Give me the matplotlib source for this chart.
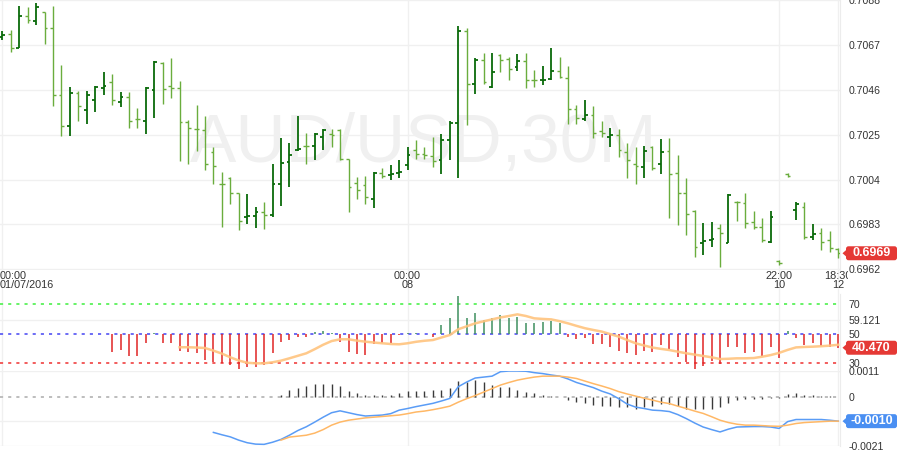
import numpy as np
import matplotlib
matplotlib.use('Agg')
import matplotlib.pyplot as plt
from matplotlib.patches import FancyBboxPatch, Polygon
from matplotlib.transforms import IdentityTransform

plt.rcParams['font.family'] = ['Liberation Sans', 'DejaVu Sans']

nan = np.nan

opens = [0.70709, 0.70721, 0.70655, 0.70807, 0.70781, 0.70823, 0.70749, 0.70437, 0.70292, 0.70446,
         0.70364, 0.70413, 0.70469, 0.70496, 0.70403, 0.70426, 0.70325, 0.70314, 0.70460, 0.70586,
         0.70476, 0.70469, 0.70309, 0.70278, 0.70273, 0.70169, 0.70021, 0.70045, 0.69975, 0.69866,
         0.69869, 0.69886, 0.69874, 0.70018, 0.70123, 0.70177, 0.70197, 0.70197, 0.70239, 0.70255,
         0.70270, 0.70138, 0.70025, 0.70014, 0.69951, 0.70071, 0.70060, 0.70071, 0.70107, 0.70177,
         0.70161, 0.70149, 0.70133, 0.70224, 0.70305, 0.70734, 0.70488, 0.70597, 0.70473, 0.70625,
         0.70605, 0.70566, 0.70594, 0.70508, 0.70504, 0.70511, 0.70550, 0.70516, 0.70368, 0.70322,
         0.70343, 0.70267, 0.70239, 0.70247, 0.70169, 0.70115, 0.70099, 0.70193, 0.70115, 0.70174,
         0.70071, 0.69978, 0.69894, 0.69741, 0.69757, 0.69811, 0.69741, 0.69936, 0.69931, 0.69842,
         0.69819, 0.69749, 0.69660, 0.70065, 0.69897, 0.69912, 0.69772, 0.69788, 0.69757, 0.69713]
highs = [0.70737, 0.70740, 0.70851, 0.70846, 0.70865, 0.70823, 0.70851, 0.70574, 0.70473, 0.70454,
         0.70454, 0.70476, 0.70543, 0.70535, 0.70449, 0.70449, 0.70375, 0.70473, 0.70594, 0.70589,
         0.70609, 0.70499, 0.70320, 0.70390, 0.70336, 0.70193, 0.70076, 0.70053, 0.69975, 0.69970,
         0.69912, 0.69936, 0.70115, 0.70235, 0.70211, 0.70337, 0.70258, 0.70258, 0.70278, 0.70278,
         0.70278, 0.70138, 0.70053, 0.70057, 0.70076, 0.70095, 0.70107, 0.70133, 0.70193, 0.70224,
         0.70193, 0.70239, 0.70255, 0.70314, 0.70760, 0.70749, 0.70609, 0.70631, 0.70631, 0.70628,
         0.70613, 0.70628, 0.70633, 0.70553, 0.70571, 0.70655, 0.70613, 0.70571, 0.70390, 0.70413,
         0.70382, 0.70314, 0.70281, 0.70275, 0.70211, 0.70193, 0.70196, 0.70197, 0.70231, 0.70236,
         0.70154, 0.70048, 0.69897, 0.69838, 0.69842, 0.69832, 0.69972, 0.69939, 0.69975, 0.69894,
         0.69858, 0.69894, 0.69664, 0.70071, 0.69936, 0.69936, 0.69832, 0.69814, 0.69799, 0.69721]
lows = [0.70693, 0.70636, 0.70655, 0.70771, 0.70765, 0.70672, 0.70382, 0.70242, 0.70242, 0.70312,
        0.70301, 0.70356, 0.70434, 0.70390, 0.70379, 0.70283, 0.70283, 0.70255, 0.70329, 0.70392,
        0.70423, 0.70126, 0.70115, 0.70174, 0.70084, 0.70018, 0.69816, 0.69925, 0.69804, 0.69832,
        0.69811, 0.69807, 0.69866, 0.69916, 0.70003, 0.70174, 0.70115, 0.70130, 0.70177, 0.70193,
        0.70133, 0.69889, 0.69947, 0.69925, 0.69905, 0.70045, 0.70037, 0.70045, 0.70084, 0.70138,
        0.70138, 0.70099, 0.70065, 0.70130, 0.70049, 0.70294, 0.70441, 0.70488, 0.70469, 0.70543,
        0.70504, 0.70550, 0.70469, 0.70473, 0.70480, 0.70508, 0.70515, 0.70301, 0.70301, 0.70314,
        0.70236, 0.70239, 0.70193, 0.70146, 0.70045, 0.70021, 0.70045, 0.70084, 0.70065, 0.69858,
        0.69827, 0.69780, 0.69676, 0.69687, 0.69726, 0.69629, 0.69741, 0.69846, 0.69811, 0.69807,
        0.69749, 0.69744, 0.69640, 0.70053, 0.69850, 0.69760, 0.69757, 0.69710, 0.69702, 0.69671]
closes = [0.70717, 0.70655, 0.70807, 0.70788, 0.70846, 0.70749, 0.70437, 0.70292, 0.70446, 0.70382,
          0.70434, 0.70473, 0.70476, 0.70410, 0.70426, 0.70314, 0.70322, 0.70468, 0.70589, 0.70465,
          0.70469, 0.70309, 0.70283, 0.70277, 0.70115, 0.70104, 0.70018, 0.69975, 0.69847, 0.69869,
          0.69886, 0.69874, 0.70018, 0.70119, 0.70154, 0.70185, 0.70196, 0.70255, 0.70270, 0.70247,
          0.70138, 0.70003, 0.69990, 0.69959, 0.70071, 0.70056, 0.70065, 0.70076, 0.70154, 0.70158,
          0.70154, 0.70126, 0.70224, 0.70305, 0.70734, 0.70488, 0.70597, 0.70496, 0.70543, 0.70597,
          0.70558, 0.70594, 0.70508, 0.70504, 0.70508, 0.70550, 0.70519, 0.70368, 0.70329, 0.70343,
          0.70258, 0.70258, 0.70250, 0.70177, 0.70133, 0.70102, 0.70174, 0.70096, 0.70169, 0.70068,
          0.69978, 0.69878, 0.69726, 0.69754, 0.69760, 0.69788, 0.69967, 0.69933, 0.69835, 0.69819,
          0.69757, 0.69866, 0.69648, 0.70056, 0.69925, 0.69772, 0.69783, 0.69749, 0.69718, 0.69695]

rsi = [nan] * 13 + [37.8, 38.9, 34.9, 34.9, 43.5, 50.2, 43.9, 43.9, 38.3, 37.8,
                    36.7, 32.2, 30.5, 29.9, 28.8, 25.8, 27.6, 27.6, 28.8, 37.1,
                    44.1, 45.7, 47.5, 47.5, 51.4, 52.1, 50.7, 44.6, 37.8, 36.2,
                    35.6, 42.8, 43.5, 43.9, 49.3, 50.8, 50.3, 49.5, 48.0, 55.9,
                    60.4, 75.6, 60.8, 64.2, 59.3, 60.4, 62.7, 60.4, 61.5, 57.5,
                    57.0, 57.7, 58.8, 57.0, 48.0, 46.2, 46.9, 43.0, 43.0, 41.2,
                    38.3, 36.7, 35.4, 38.0, 37.6, 42.6, 39.5, 34.0, 30.6, 25.8,
                    27.8, 31.2, 29.6, 41.0, 41.0, 37.1, 37.6, 34.6, 41.0, 33.3,
                    52.0, 47.4, 42.3, 43.5, 41.6, 41.2, 40.47]
rsi_ma = [nan] * 21 + [40.8, 40.8, 40.6, 40.3, 38.5, 36.5, 34.0, 31.8, 30.3, 29.9,
                       29.9, 30.6, 31.7, 33.3, 35.0, 36.7, 39.5, 42.5, 45.0, 46.2,
                       46.2, 45.3, 44.6, 44.0, 43.5, 43.0, 42.8, 43.5, 44.5, 45.2,
                       45.7, 47.4, 49.1, 53.0, 55.0, 57.0, 58.4, 59.7, 61.0, 62.0,
                       63.1, 62.0, 60.4, 60.0, 59.7, 58.5, 57.0, 55.3, 53.7, 52.5,
                       51.4, 49.7, 48.0, 45.7, 43.5, 42.0, 40.6, 39.7, 38.9, 37.8,
                       36.7, 35.8, 34.9, 34.0, 32.8, 33.0, 33.3, 33.3, 33.5, 34.4,
                       35.5, 37.0, 39.0, 40.7, 41.0, 41.2, 41.5, 41.9, 42.5]

macd = [nan] * 25 + [-0.00152, -0.00162, -0.00171, -0.00185, -0.00196, -0.00202, -0.00203, -0.00194, -0.00182, -0.00164,
                     -0.00144, -0.00128, -0.00108, -0.00087, -0.00068, -0.00060, -0.00068, -0.00076, -0.00082, -0.00080,
                     -0.00078, -0.00072, -0.00057, -0.00050, -0.00042, -0.00035, -0.00028, -0.00018, -0.00007, 0.00043,
                     0.00063, 0.00080, 0.00084, 0.00088, 0.00107, 0.00110, 0.00110, 0.00109, 0.00103, 0.00099,
                     0.00093, 0.00088, 0.00076, 0.00061, 0.00050, 0.00039, 0.00024, 0.00012, -0.00008, -0.00031,
                     -0.00044, -0.00050, -0.00057, -0.00059, -0.00063, -0.00076, -0.00093, -0.00112, -0.00129, -0.00140,
                     -0.00150, -0.00138, -0.00129, -0.00128, -0.00127, -0.00127, -0.00129, -0.00135, -0.00106, -0.00097,
                     -0.00097, -0.00097, -0.00097, -0.00100, -0.00104]
signal = [nan] * 33 + [-0.00185, -0.00172, -0.00168, -0.00164, -0.00155, -0.00140, -0.00121,
                       -0.00108, -0.00100, -0.00095, -0.00090, -0.00087, -0.00084, -0.00081, -0.00078, -0.00072, -0.00065,
                       -0.00061, -0.00055, -0.00048, -0.00040, -0.00023, -0.00008, 0.00005, 0.00020, 0.00035, 0.00050,
                       0.00061, 0.00071, 0.00078, 0.00084, 0.00088, 0.00088, 0.00088, 0.00084, 0.00078, 0.00067,
                       0.00056, 0.00046, 0.00035, 0.00022, 0.00012, 0.00003, -0.00006, -0.00014, -0.00023, -0.00029,
                       -0.00040, -0.00050, -0.00061, -0.00071, -0.00085, -0.00100, -0.00110, -0.00117, -0.00121, -0.00121,
                       -0.00123, -0.00125, -0.00126, -0.00121, -0.00114, -0.00110, -0.00108, -0.00106, -0.00104, -0.00104]
hist = [nan] * 33 + [0.00007, 0.00029, 0.00036, 0.00046, 0.00054, 0.00054, 0.00054,
                     0.00044, 0.00026, 0.00015, 0.00007, 0.00007, 0.00007, 0.00007, 0.00018, 0.00026, 0.00026,
                     0.00026, 0.00029, 0.00029, 0.00036, 0.00067, 0.00064, 0.00071, 0.00064, 0.00050, 0.00043,
                     0.00043, 0.00029, 0.00021, 0.00015, 0.00007, 0.00004, 0.00001, -0.00014, -0.00021, -0.00028,
                     -0.00035, -0.00040, -0.00040, -0.00043, -0.00045, -0.00050, -0.00043, -0.00040, -0.00031, -0.00031,
                     -0.00040, -0.00050, -0.00054, -0.00054, -0.00050, -0.00045, -0.00026, -0.00014, -0.00011, -0.00010,
                     -0.00009, -0.00007, -0.00007, 0.00010, 0.00015, 0.00007, 0.00007, 0.00003, 0.00003, -0.00003]

price_ticks = [0.7088, 0.7067, 0.7046, 0.7025, 0.7004, 0.6983, 0.6962]
rsi_ticks = [70, 59.121, 50, 30]
rsi_tick_labels = ['70', '59.121', '50', '30']
macd_ticks = [0.0011, 0, -0.0021]
macd_tick_labels = ['0.0011', '0', '-0.0021']
time_ticks = [0, 48, 92, 99]
time_labels = ['00:00\n01/07/2016', '00:00\n08', '22:00\n10', '18:30\n12']
watermark = 'AUD/USD,30M'

o = np.array(opens); h = np.array(highs); l = np.array(lows); c = np.array(closes)
x = np.arange(len(o))
rsi = np.array(rsi); rsi_ma = np.array(rsi_ma)
macd = np.array(macd); signal = np.array(signal); hist = np.array(hist)

W, H = 900, 450
PR = 840
STEP = 8.444
X0 = 2.3
fig = plt.figure(figsize=(9, 4.5), dpi=100)
fig.patch.set_facecolor('white')


def axes_px(top, bottom, right=PR):
    return fig.add_axes([0, (H - bottom) / H, right / W, (bottom - top) / H])


ax_p = axes_px(0, 270)
ax_t = axes_px(270, 294, right=848)
ax_r = axes_px(294, 371)
ax_m = axes_px(371, 446)

xlim = (-X0 / STEP, (PR - X0) / STEP)
GRID = '#f0f0f0'
TXT = '#333333'
DASH = (1.6, 2.6)
for ax in (ax_p, ax_t, ax_r, ax_m):
    ax.set_xlim(*xlim)
    ax.set_facecolor('none')
    for s in ('top', 'left', 'bottom', 'right'):
        ax.spines[s].set_visible(False)
    ax.set_xticks([])
    for xi in time_ticks:
        ax.axvline(xi, color=GRID, lw=1, zorder=0)
ax_t.set_xlim(-X0 / STEP, (848 - X0) / STEP)
for ax in (ax_p, ax_r, ax_m):
    ax.spines['right'].set_visible(True)
    ax.spines['right'].set_color('#ececec')

# ---- price panel
ax_p.set_ylim(0.696167, 0.708767)
ax_p.text(0.504, 1 - 162 / 270, watermark, transform=ax_p.transAxes, ha='center',
          va='baseline', fontsize=50, color='#f0f0f0', zorder=0)
up = c >= o
tick = 0.33
for mask, col, lw in ((~up, '#6aad3d', 1.0), (up, '#0a6a0a', 1.3)):
    ax_p.vlines(x[mask], l[mask], h[mask], color=col, lw=lw, zorder=3)
    ax_p.hlines(o[mask], x[mask] - tick, x[mask], color=col, lw=lw, zorder=3)
    ax_p.hlines(c[mask], x[mask], x[mask] + tick, color=col, lw=lw, zorder=3)
ax_p.yaxis.tick_right()
ax_p.set_yticks(price_ticks)
ax_p.set_yticklabels([f'{v:.4f}' for v in price_ticks])
for v in price_ticks:
    ax_p.axhline(v, color=GRID, lw=1, zorder=0)

# ---- time labels
ax_t.set_ylim(0, 1)
ax_t.set_yticks([])
for xi, lab in zip(time_ticks, time_labels):
    ax_t.text(xi if xi > 0 else xlim[0], 0.97, lab, ha='left' if xi == 0 else 'center',
              va='top', fontsize=7.8, color=TXT, linespacing=0.9, clip_on=True)

# ---- RSI panel
ax_r.set_ylim(24.7, 76.9)
ax_r.axhline(59.121, color=GRID, lw=1, zorder=0)
ax_r.axhline(70, color='#66f266', lw=1.4, dashes=DASH, zorder=1)
ax_r.axhline(50, color='#6b6bf5', lw=1.4, dashes=DASH, zorder=1)
ax_r.axhline(30, color='#f25c5c', lw=1.4, dashes=DASH, zorder=1)
valid = ~np.isnan(rsi)
pos = valid & (rsi >= 50)
neg = valid & (rsi < 50)
ax_r.vlines(x[pos], 50, rsi[pos], color='#3f8f5f', lw=1.1, zorder=3)
ax_r.vlines(x[neg], rsi[neg], 50, color='#e02424', lw=1.1, zorder=3)
ax_r.plot(x, rsi_ma, color='#ffc47e', lw=1.8, alpha=0.9, zorder=4)
ax_r.yaxis.tick_right()
ax_r.set_yticks(rsi_ticks)
ax_r.set_yticklabels(rsi_tick_labels)

# ---- MACD panel
ax_m.set_ylim(-0.0021, 0.0011)
for v in (0.0011, -0.00105, -0.0021):
    ax_m.axhline(v, color=GRID, lw=1, zorder=0)
ax_m.axhline(0, color='#bdbdbd', lw=1.4, dashes=DASH, zorder=1)
hv = ~np.isnan(hist)
ax_m.vlines(x[hv], 0, hist[hv], color='#3a3a3a', lw=1.0, zorder=3)
ax_m.plot(x, macd, color='#5a9cf6', lw=1.1, zorder=4)
ax_m.plot(x, signal, color='#ffb866', lw=1.1, zorder=4)
ax_m.yaxis.tick_right()
ax_m.set_yticks(macd_ticks)
ax_m.set_yticklabels(macd_tick_labels)

for ax in (ax_p, ax_r, ax_m):
    ax.tick_params(axis='y', length=0, pad=6, labelsize=7.6, labelcolor=TXT)


def value_tag(ax, value, label, color):
    yd = ax.transData.transform((0, value))[1]
    x0, x1, hh = 846, 897, 14
    idt = IdentityTransform()
    box = FancyBboxPatch((x0, yd - hh / 2), x1 - x0, hh,
                         boxstyle='round,pad=0,rounding_size=2.5',
                         fc=color, ec='none', transform=idt, zorder=10)
    tri = Polygon([[x0 - 3.5, yd], [x0 + 1, yd + 4], [x0 + 1, yd - 4]], closed=True,
                  fc=color, ec='none', transform=idt, zorder=10)
    fig.add_artist(box)
    fig.add_artist(tri)
    fig.text((x0 + x1) / 2, yd, label, transform=idt, ha='center', va='center',
             color='white', fontsize=9, fontweight='bold', zorder=11)


value_tag(ax_p, c[-1], f'{c[-1]:.4f}', '#e53935')
value_tag(ax_r, rsi[-1], f'{rsi[-1]:.3f}', '#e53935')
value_tag(ax_m, macd[-1], f'{macd[-1]:.4f}', '#4a8ff2')

fig.savefig('out.png', dpi=100, facecolor='white')
